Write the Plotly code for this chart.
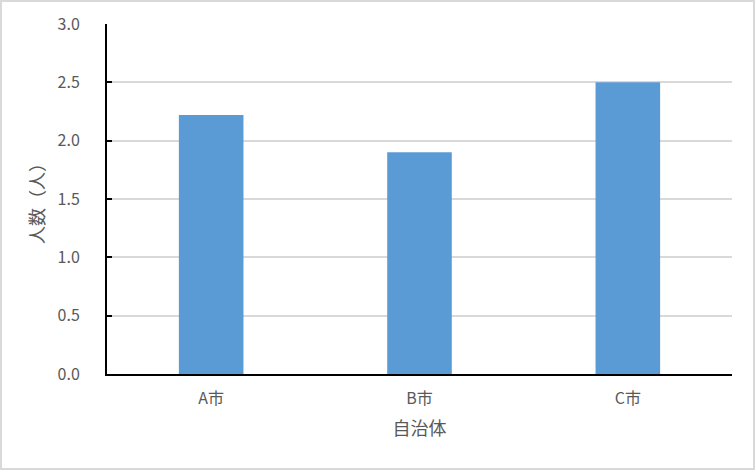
"""bar chart of persons by municipality"""

import plotly.graph_objects as go

# data
cities = ["A市", "B市", "C市"]
persons = [2.22, 1.90, 2.50]
y_ticks = [0.0, 0.5, 1.0, 1.5, 2.0, 2.5, 3.0]

W, H = 756, 471
L, R, T, B = 107, 24, 24, 97


def main():
    """main"""
    fig = go.Figure(go.Bar(x=cities, y=persons, marker_color="#5B9BD5",
                           marker_line_width=0))

    font = "Noto Sans CJK JP, sans-serif"
    fig.update_layout(
        width=W, height=H,
        margin=dict(l=L, r=R, t=T, b=B),
        plot_bgcolor="white", paper_bgcolor="white",
        bargap=0.69,
        showlegend=False,
        font=dict(family=font, color="#595959", size=16),
    )
    fig.update_xaxes(
        showline=True, linecolor="black", linewidth=2,
        ticks="", ticklabelstandoff=9,
        title=dict(text="自治体", font=dict(size=18), standoff=14),
    )
    fig.update_yaxes(
        range=[0, 3.0], tickvals=y_ticks,
        ticktext=[f"{v:.1f}" for v in y_ticks],
        showline=True, linecolor="black", linewidth=2,
        ticks="inside", ticklen=5, tickcolor="black", tickwidth=2,
        showgrid=True, gridcolor="#D9D9D9", gridwidth=2,
        zeroline=False, ticklabelstandoff=22,
        title=dict(text="人数（人）", font=dict(size=18), standoff=8),
    )

    # outer chart border
    pw, ph = W - L - R, H - T - B
    fig.add_shape(type="rect", xref="paper", yref="paper",
                  x0=-(L - 1) / pw, x1=1 + (R - 2) / pw,
                  y0=-(B - 2) / ph, y1=1 + (T - 1) / ph,
                  line=dict(color="#D9D9D9", width=2), layer="below")

    # drop the page margin so the chart sits at the window corner
    fig.write_html("out.html", config={"displayModeBar": False},
                   post_script="document.body.style.margin='0';")


if __name__ == "__main__":
    main()
